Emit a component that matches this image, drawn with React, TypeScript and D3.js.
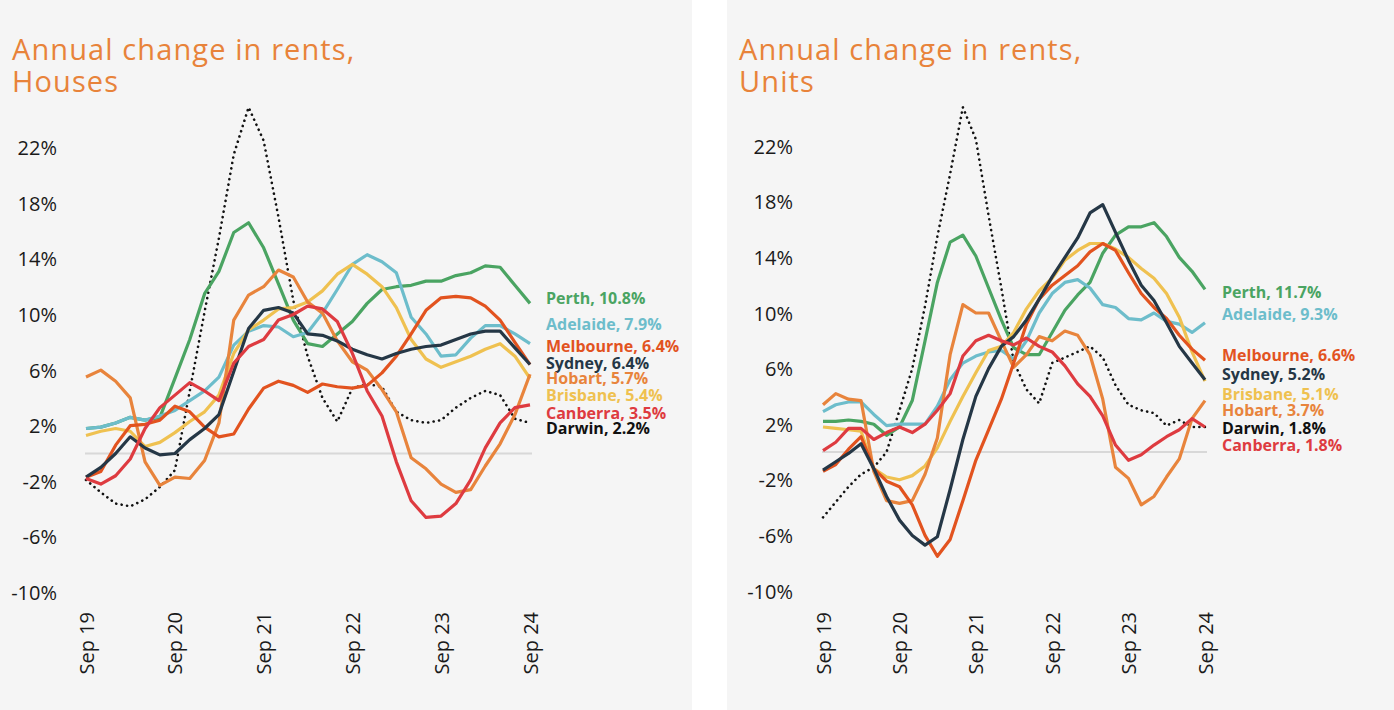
import * as d3 from "d3";

// bi-monthly points, Sep 2019 .. Sep 2024
const months = d3.timeMonth.every(2)!.range(new Date(2019, 8, 1), new Date(2024, 9, 1));
const yTicks = [-10, -6, -2, 2, 6, 10, 14, 18, 22];
const xTicks = [2019, 2020, 2021, 2022, 2023, 2024].map((y) => new Date(y, 8, 1));

const cities = ["Perth", "Adelaide", "Melbourne", "Sydney", "Hobart", "Brisbane", "Canberra", "Darwin"];
const cityColors = ["#4aa462", "#6dbdcb", "#e2531f", "#253746", "#e8843c", "#efc150", "#de3b40", "#111111"];
const drawOrder = ["Darwin", "Perth", "Adelaide", "Brisbane", "Hobart", "Melbourne", "Sydney", "Canberra"];

// Houses
const housesPerth = [1.8, 1.9, 2.2, 2.6, 2.4, 2.6, 5.4, 8.2, 11.5, 13.1, 15.9, 16.6, 14.8, 12.2, 9.6, 7.9, 7.7, 8.6, 9.5, 10.8, 11.8, 12.0, 12.1, 12.4, 12.4, 12.8, 13.0, 13.5, 13.4, 12.1, 10.8];
const housesAdelaide = [1.8, 1.9, 2.2, 2.6, 2.4, 2.7, 3.1, 3.8, 4.5, 5.5, 7.8, 8.8, 9.2, 9.1, 8.4, 8.7, 10.1, 11.8, 13.6, 14.3, 13.8, 13.0, 9.8, 8.6, 7.0, 7.1, 8.3, 9.2, 9.2, 8.6, 7.9];
const housesMelbourne = [-1.7, -1.3, 0.6, 2.0, 2.1, 2.4, 3.4, 3.0, 1.9, 1.2, 1.4, 3.2, 4.7, 5.2, 4.9, 4.4, 5.0, 4.8, 4.7, 4.9, 5.8, 7.0, 8.6, 10.3, 11.2, 11.3, 11.2, 10.6, 9.6, 8.0, 6.4];
const housesSydney = [-1.7, -1.0, 0.0, 1.2, 0.4, -0.1, 0.0, 1.0, 1.8, 2.8, 5.9, 9.0, 10.3, 10.5, 10.1, 8.6, 8.5, 8.1, 7.5, 7.1, 6.8, 7.2, 7.5, 7.7, 7.8, 8.2, 8.6, 8.8, 8.8, 7.6, 6.4];
const housesHobart = [5.5, 6.0, 5.2, 4.0, -0.6, -2.3, -1.7, -1.8, -0.5, 2.2, 9.6, 11.4, 12.0, 13.2, 12.7, 10.9, 10.1, 8.1, 6.6, 6.0, 4.6, 3.0, -0.3, -1.1, -2.2, -2.8, -2.6, -0.9, 0.7, 2.8, 5.7];
const housesBrisbane = [1.3, 1.6, 1.8, 1.6, 0.5, 0.8, 1.5, 2.3, 3.0, 4.2, 7.2, 8.9, 9.6, 10.4, 10.5, 10.9, 11.7, 12.9, 13.6, 12.9, 12.0, 10.5, 8.2, 6.8, 6.2, 6.6, 7.0, 7.5, 7.9, 7.0, 5.4];
const housesCanberra = [-1.8, -2.2, -1.6, -0.4, 1.8, 3.3, 4.2, 5.1, 4.5, 3.8, 6.5, 7.7, 8.2, 9.6, 10.0, 10.6, 10.4, 9.5, 7.2, 4.5, 2.7, -0.6, -3.4, -4.6, -4.5, -3.6, -1.9, 0.4, 2.2, 3.3, 3.5];
const housesDarwin = [-1.9, -2.8, -3.6, -3.8, -3.3, -2.4, -1.2, 4.5, 10.2, 15.5, 21.5, 24.9, 22.5, 17.0, 11.0, 7.0, 4.0, 2.3, 4.7, 5.0, 4.8, 3.0, 2.4, 2.2, 2.4, 3.3, 4.0, 4.5, 4.2, 2.5, 2.2];
const housesLatest = [10.8, 7.9, 6.4, 6.4, 5.7, 5.4, 3.5, 2.2];
const housesLabelAt = [11.2, 9.3, 7.7, 6.5, 5.4, 4.2, 2.9, 1.8];

// Units
const unitsPerth = [2.2, 2.2, 2.3, 2.2, 2.0, 1.2, 1.8, 3.7, 8.0, 12.2, 15.1, 15.6, 14.1, 11.8, 9.5, 7.5, 7.0, 7.0, 8.6, 10.2, 11.3, 12.2, 14.3, 15.6, 16.2, 16.2, 16.5, 15.5, 14.0, 13.0, 11.7];
const unitsAdelaide = [2.9, 3.4, 3.6, 3.6, 2.7, 1.9, 2.0, 2.0, 2.0, 3.3, 5.2, 6.4, 6.9, 7.2, 7.3, 6.7, 8.0, 10.0, 11.4, 12.2, 12.4, 11.8, 10.6, 10.4, 9.6, 9.5, 10.0, 9.4, 9.2, 8.6, 9.3];
const unitsMelbourne = [-1.4, -0.9, 0.2, 1.1, -1.2, -2.1, -2.5, -3.8, -6.0, -7.5, -6.3, -3.5, -0.6, 1.6, 3.8, 6.4, 9.2, 11.0, 12.0, 12.7, 13.4, 14.4, 15.0, 14.5, 12.9, 11.4, 10.4, 9.6, 8.4, 7.4, 6.6];
const unitsSydney = [-1.3, -0.7, -0.1, 0.6, -1.2, -3.2, -4.9, -6.0, -6.7, -6.1, -2.7, 0.9, 4.0, 6.0, 7.6, 8.3, 9.5, 11.0, 12.6, 14.0, 15.4, 17.2, 17.8, 15.8, 13.8, 12.0, 10.9, 9.3, 7.6, 6.4, 5.2];
const unitsHobart = [3.4, 4.2, 3.8, 3.7, -1.4, -3.5, -3.7, -3.5, -1.6, 1.0, 7.0, 10.6, 10.0, 10.0, 8.0, 6.1, 7.0, 8.3, 8.0, 8.7, 8.4, 7.0, 3.8, -1.1, -1.9, -3.8, -3.2, -1.8, -0.5, 2.4, 3.7];
const unitsBrisbane = [1.8, 1.7, 1.6, 1.5, -1.2, -1.8, -2.0, -1.7, -1.0, 0.3, 2.2, 4.0, 5.7, 7.3, 7.6, 8.6, 10.3, 11.6, 12.5, 13.8, 14.5, 15.0, 15.0, 14.6, 14.0, 13.2, 12.5, 11.4, 9.7, 7.2, 5.1];
const unitsCanberra = [0.1, 0.7, 1.7, 1.7, 0.9, 1.4, 1.8, 1.4, 2.0, 3.0, 4.2, 6.9, 8.0, 8.4, 8.0, 7.7, 8.2, 7.6, 7.2, 6.2, 4.9, 4.0, 2.6, 0.5, -0.6, -0.2, 0.5, 1.1, 1.6, 2.4, 1.8];
const unitsDarwin = [-4.7, -3.6, -2.5, -1.6, -1.1, 0.0, 3.0, 6.0, 10.5, 15.5, 20.0, 24.8, 22.5, 17.0, 11.8, 6.5, 4.5, 3.5, 6.4, 6.8, 7.2, 7.6, 6.8, 4.8, 3.4, 3.0, 2.8, 1.9, 2.3, 1.8, 1.8];
const unitsLatest = [11.7, 9.3, 6.6, 5.2, 3.7, 5.1, 1.8, 1.8];
const unitsLabelAt = [11.5, 9.9, 7.0, 5.6, 3.0, 4.2, 0.5, 1.7];

const housesSeries = [housesPerth, housesAdelaide, housesMelbourne, housesSydney, housesHobart, housesBrisbane, housesCanberra, housesDarwin];
const unitsSeries = [unitsPerth, unitsAdelaide, unitsMelbourne, unitsSydney, unitsHobart, unitsBrisbane, unitsCanberra, unitsDarwin];

const TITLE = "#e8833a";
const FONT = "'Open Sans', 'DejaVu Sans', sans-serif";

type PanelProps = {
  left: number;
  width: number;
  subtitle: string;
  plotX: [number, number];
  plotY: [number, number]; // y of -10 and 22
  axisRight: number;
  series: number[][];
  latest: number[];
  labelAt: number[];
  labelX: number;
};

function Panel(p: PanelProps) {
  const x = d3.scaleTime().domain([months[0], months[months.length - 1]]).range(p.plotX);
  const y = d3.scaleLinear().domain([-10, 22]).range(p.plotY);
  const line = d3
    .line<number>()
    .x((_, i) => x(months[i]))
    .y((d) => y(d));
  const fmt = d3.timeFormat("%b %y");

  return (
    <g>
      <rect x={p.left} y={0} width={p.width} height={710} fill="#f5f5f5" />
      <text x={p.left + 12} y={60} fill={TITLE} fontSize={29} letterSpacing={1.1} fontFamily={FONT}>
        Annual change in rents,
      </text>
      <text x={p.left + 12} y={92} fill={TITLE} fontSize={29} letterSpacing={1.1} fontFamily={FONT}>
        {p.subtitle}
      </text>
      {yTicks.map((t) => (
        <text
          key={t}
          x={p.axisRight}
          y={y(t)}
          textAnchor="end"
          dominantBaseline="central"
          fontSize={20}
          fontFamily={FONT}
          fill="#1a1a1a"
        >
          {t}%
        </text>
      ))}
      {xTicks.map((t) => (
        <text
          key={t.getTime()}
          transform={`translate(${x(t)},612) rotate(-90)`}
          textAnchor="end"
          dominantBaseline="central"
          fontSize={20}
          fontFamily={FONT}
          fill="#1a1a1a"
        >
          {fmt(t)}
        </text>
      ))}
      <line x1={p.plotX[0] - 1} x2={p.plotX[1] + 2} y1={y(0)} y2={y(0)} stroke="#d8d8d8" strokeWidth={2} />
      {drawOrder.map((name) => {
        const i = cities.indexOf(name);
        const dotted = name === "Darwin";
        return (
          <path
            key={name}
            d={line(p.series[i]) ?? ""}
            fill="none"
            stroke={cityColors[i]}
            strokeWidth={dotted ? 2.6 : 3.2}
            strokeDasharray={dotted ? "0.1 5.4" : undefined}
            strokeLinecap={dotted ? "round" : "butt"}
            strokeLinejoin="round"
          />
        );
      })}
      {cities.map((name, i) => (
        <text
          key={name}
          x={p.labelX}
          y={y(p.labelAt[i])}
          dominantBaseline="central"
          fontSize={16}
          fontWeight={700}
          fontFamily={FONT}
          fill={cityColors[i]}
        >
          {name}, {p.latest[i].toFixed(1)}%
        </text>
      ))}
    </g>
  );
}

export default function App() {
  return (
    <svg width={1394} height={710} style={{ position: "fixed", left: 0, top: 0, background: "#fff" }}>
      <Panel
        left={0}
        width={692}
        subtitle="Houses"
        plotX={[86, 530]}
        plotY={[592.5, 147.7]}
        axisRight={57}
        series={housesSeries}
        latest={housesLatest}
        labelAt={housesLabelAt}
        labelX={546}
      />
      <Panel
        left={727}
        width={667}
        subtitle="Units"
        plotX={[823, 1205]}
        plotY={[591, 146.2]}
        axisRight={793}
        series={unitsSeries}
        latest={unitsLatest}
        labelAt={unitsLabelAt}
        labelX={1222}
      />
    </svg>
  );
}
